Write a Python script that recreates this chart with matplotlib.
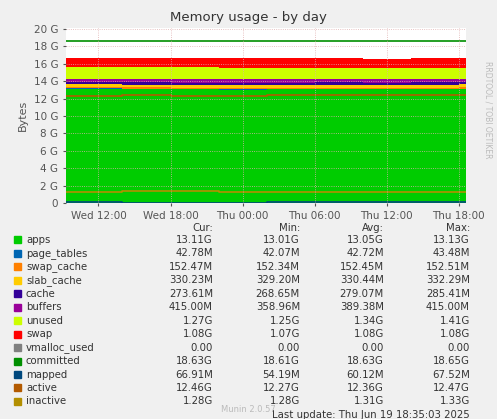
import matplotlib
matplotlib.use("Agg")
import matplotlib.pyplot as plt
import numpy as np

# time in hours since Wed 00:00
t = [9.3, 14.0, 18.0, 22.0, 26.0, 30.0, 34.0, 38.0, 42.0, 42.6]
G = 1.0
M = 1/1024
apps        = [13.11, 13.08, 13.05, 13.03, 13.05, 13.06, 13.04, 13.06, 13.10, 13.11]
page_tables = [x*M for x in [43.0, 42.5, 42.7, 42.6, 42.5, 42.8, 42.7, 42.9, 42.8, 42.78]]
swap_cache  = [x*M for x in [152.4]*10]
slab_cache  = [x*M for x in [330, 331, 330, 329.5, 330, 331, 330, 330.5, 330.3, 330.23]]
cache       = [x*M for x in [280, 278, 276, 279, 280, 279, 278, 277, 274, 273.6]]
buffers     = [x*M for x in [360, 365, 375, 385, 390, 395, 400, 405, 412, 415]]
unused      = [1.35, 1.40, 1.38, 1.35, 1.33, 1.32, 1.30, 1.30, 1.28, 1.27]
swap        = [1.08]*10
vmalloc     = [0.0]*10
committed   = [18.63]*10
mapped      = [x*M for x in [60, 58, 56, 55, 60, 62, 63, 64, 66, 66.9]]
active      = [12.30, 12.35, 12.30, 12.30, 12.35, 12.38, 12.36, 12.40, 12.45, 12.46]
inactive    = [1.32, 1.33, 1.33, 1.30, 1.29, 1.29, 1.29, 1.28, 1.28, 1.28]

names = ["apps","page_tables","swap_cache","slab_cache","cache","buffers","unused","swap","vmalloc_used","committed","mapped","active","inactive"]
colors = ["#00CC00","#0066B3","#FF8000","#FFCC00","#330099","#990099","#CCFF00","#FF0000","#808080","#008F00","#00487D","#B35A00","#B38F00"]
cur = ["13.11G","42.78M","152.47M","330.23M","273.61M","415.00M","1.27G","1.08G","0.00","18.63G","66.91M","12.46G","1.28G"]
mn  = ["13.01G","42.07M","152.34M","329.20M","268.65M","358.96M","1.25G","1.07G","0.00","18.61G","54.19M","12.27G","1.28G"]
avg = ["13.05G","42.72M","152.45M","330.44M","279.07M","389.38M","1.34G","1.08G","0.00","18.63G","60.12M","12.36G","1.31G"]
mx  = ["13.13G","43.48M","152.51M","332.29M","285.41M","415.00M","1.41G","1.08G","0.00","18.65G","67.52M","12.47G","1.33G"]

W, H = 497, 419
fig = plt.figure(figsize=(W/100, H/100), dpi=100, facecolor="#F0F0F0")
ax = fig.add_axes([66/W, 1-203/H, 400/W, 175/H], facecolor="white")

stack = [apps, page_tables, swap_cache, slab_cache, cache, buffers, unused, swap, vmalloc]
ax.stackplot(t, *[np.array(s) for s in stack], colors=colors[:9], step="post", linewidth=0)
for s, c in zip([committed, mapped, active, inactive], colors[9:]):
    ax.step(t, s, where="post", color=c, lw=1.2)

ax.set_xlim(9.3, 42.6)
ax.set_ylim(0, 20.1)
ax.set_yticks(range(0, 21, 2))
ax.set_yticklabels(["0"] + [f"{v} G" for v in range(2, 21, 2)])
ax.set_xticks([12, 18, 24, 30, 36, 42])
ax.set_xticklabels(["Wed 12:00","Wed 18:00","Thu 00:00","Thu 06:00","Thu 12:00","Thu 18:00"])
ax.tick_params(labelsize=7.5, colors="#555555", length=2)
ax.grid(True, color="#E0B0B0", ls=":", lw=0.6)
ax.set_axisbelow(False)
for sp in ax.spines.values():
    sp.set_visible(False)
ax.set_ylabel("Bytes", fontsize=8, color="#555555")
fig.text(0.5, 1-18/H, "Memory usage - by day", ha="center", va="center", fontsize=9.5, color="#333333")
fig.text(488/W, 1-110/H, "RRDTOOL / TOBI OETIKER", rotation=270, ha="center", va="center", fontsize=5.5, color="#BBBBBB")

fs = 7.3
y0 = 228
fig.text(213/W, 1-y0/H, "Cur:", ha="right", va="center", fontsize=fs, color="#333333")
fig.text(300/W, 1-y0/H, "Min:", ha="right", va="center", fontsize=fs, color="#333333")
fig.text(384/W, 1-y0/H, "Avg:", ha="right", va="center", fontsize=fs, color="#333333")
fig.text(470/W, 1-y0/H, "Max:", ha="right", va="center", fontsize=fs, color="#333333")
for i, n in enumerate(names):
    y = 1-(240 + i*13.45)/H
    fig.patches.append(plt.Rectangle((14/W, y-3.5/H), 7/W, 7/H, transform=fig.transFigure, color=colors[i]))
    fig.text(26/W, y, n, va="center", fontsize=fs, color="#333333")
    for xx, v in zip([213, 300, 384, 470], [cur[i], mn[i], avg[i], mx[i]]):
        fig.text(xx/W, y, v, ha="right", va="center", fontsize=fs, color="#333333")
fig.text(470/W, 1-(240+13*13.45)/H, "Last update: Thu Jun 19 18:35:03 2025", ha="right", va="center", fontsize=fs, color="#333333")
fig.text(248/W, 1-409/H, "Munin 2.0.57", ha="center", va="center", fontsize=6, color="#BBBBBB")
fig.savefig("out.png", dpi=100, facecolor=fig.get_facecolor())
